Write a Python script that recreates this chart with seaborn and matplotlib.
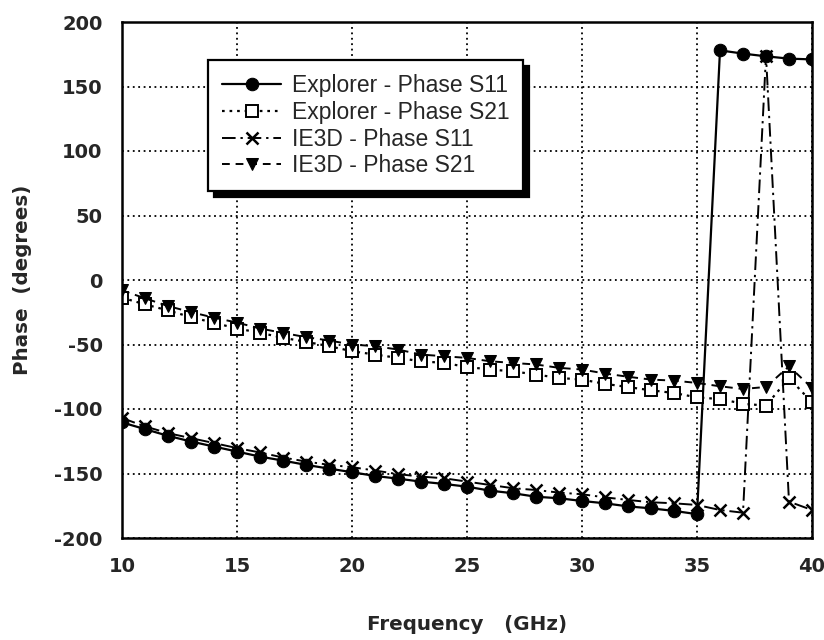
import numpy as np
import pandas as pd
import matplotlib
matplotlib.use("Agg")
import matplotlib.pyplot as plt
import seaborn as sns
from matplotlib.ticker import MultipleLocator

freq = list(range(10, 41))

explorer_s11 = [-110.4, -115.6, -120.8, -125.2, -129.1, -133.0, -136.9, -140.0, -143.3, -146.2,
                -149.0, -151.9, -154.0, -156.3, -158.1, -160.2, -163.3, -165.3, -168.0, -169.2,
                -171.3, -173.1, -175.5, -177.0, -179.0, -181.5, 178.0, 175.5, 173.4, 171.6, 171.0]
explorer_s21 = [-13.7, -18.9, -23.6, -28.8, -33.2, -37.6, -40.9, -44.8, -47.9, -51.3,
                -55.2, -57.8, -60.4, -63.0, -64.3, -67.4, -69.4, -70.8, -73.3, -75.9,
                -77.2, -80.5, -83.0, -85.5, -87.6, -91.0, -92.3, -95.9, -97.4, -75.9, -94.9]
ie3d_s11 = [-107.0, -113.5, -118.7, -122.6, -126.4, -130.3, -133.7, -137.6, -140.7, -143.3,
            -145.1, -147.7, -150.5, -152.4, -153.7, -156.3, -158.9, -161.4, -162.8, -164.8,
            -166.1, -168.5, -170.5, -172.3, -173.1, -174.4, -178.3, -180.4, 174.0, -171.8, -178.3]
ie3d_s21 = [-8.0, -14.2, -20.2, -24.9, -29.2, -33.0, -37.6, -41.0, -44.3, -46.9,
            -50.0, -51.3, -53.9, -57.8, -59.1, -60.4, -63.0, -64.3, -65.5, -68.1,
            -69.4, -72.5, -75.0, -77.2, -78.0, -79.8, -82.4, -84.5, -82.9, -66.9, -83.7]

series_names = ["Explorer - Phase S11", "Explorer - Phase S21",
                "IE3D - Phase S11", "IE3D - Phase S21"]
series_values = [explorer_s11, explorer_s21, ie3d_s11, ie3d_s21]

x_ticks = [10, 15, 20, 25, 30, 35, 40]
y_ticks = [-200, -150, -100, -50, 0, 50, 100, 150, 200]

sns.set_style("white")
plt.rcParams['font.family'] = ['DejaVu Sans']

fig = plt.figure(figsize=(8.24, 6.4), dpi=100)
ax = fig.add_axes([122 / 824, 1 - 538 / 640, (812 - 122) / 824, (538 - 22) / 640])

styles = [
    dict(marker='o', linestyle='-', markersize=9, markerfacecolor='black',
         markeredgecolor='black', linewidth=1.6),
    dict(marker='s', linestyle=(0, (1.2, 2.2)), markersize=8, markerfacecolor='white',
         markeredgecolor='black', markeredgewidth=1.4, linewidth=1.6),
    dict(marker='x', linestyle=(0, (7, 2.5, 1.2, 2.5)), markersize=8,
         markeredgecolor='black', markeredgewidth=1.8, linewidth=1.4),
    dict(marker='v', linestyle=(0, (4, 3)), markersize=9, markerfacecolor='black',
         markeredgecolor='black', linewidth=1.4),
]

for name, vals, st in zip(series_names, series_values, styles):
    df = pd.DataFrame({"Frequency": freq, "Phase": vals})
    sns.lineplot(data=df, x="Frequency", y="Phase", ax=ax, color='black',
                 label=name, sort=False, **st)

ax.set_xlim(10, 40)
ax.set_ylim(-200, 200)
ax.set_xticks(x_ticks)
ax.set_yticks(y_ticks)
ax.xaxis.set_minor_locator(MultipleLocator(1))
ax.yaxis.set_minor_locator(MultipleLocator(10))
ax.set_xticklabels([str(v) for v in x_ticks], fontsize=14, fontweight='bold')
ax.set_yticklabels([str(v) for v in y_ticks], fontsize=14, fontweight='bold')
ax.tick_params(axis='both', which='major', direction='out', length=8, width=1.4,
               color='black')
ax.tick_params(axis='both', which='minor', direction='out', length=4, width=1.2,
               color='black')
ax.tick_params(axis='y', which='major', pad=6)
ax.tick_params(axis='x', which='major', pad=6)

ax.grid(True, which='major', color='black', linestyle=(0, (1, 2)), linewidth=1.3)
for sp in ax.spines.values():
    sp.set_visible(True)
    sp.set_color('black')
    sp.set_linewidth(1.8)

ax.set_xlabel("Frequency   (GHz)", fontsize=14.3, fontweight='bold', labelpad=28)
ax.set_ylabel("Phase  (degrees)", fontsize=14.3, fontweight='bold', labelpad=16)

leg = ax.legend(loc='upper left', bbox_to_anchor=((208 - 122) / 690, (538 - 60) / 516),
                prop={'family': 'Liberation Sans', 'size': 16.5},
                frameon=True, fancybox=False, edgecolor='black', framealpha=1,
                handlelength=2.6, handletextpad=0.45, labelspacing=0.17,
                borderpad=0.6, borderaxespad=0,
                shadow={'ox': 4, 'oy': -4, 'facecolor': 'black',
                        'edgecolor': 'black', 'alpha': 1})
leg.get_frame().set_linewidth(1.6)

fig.savefig("out.png", dpi=100)
